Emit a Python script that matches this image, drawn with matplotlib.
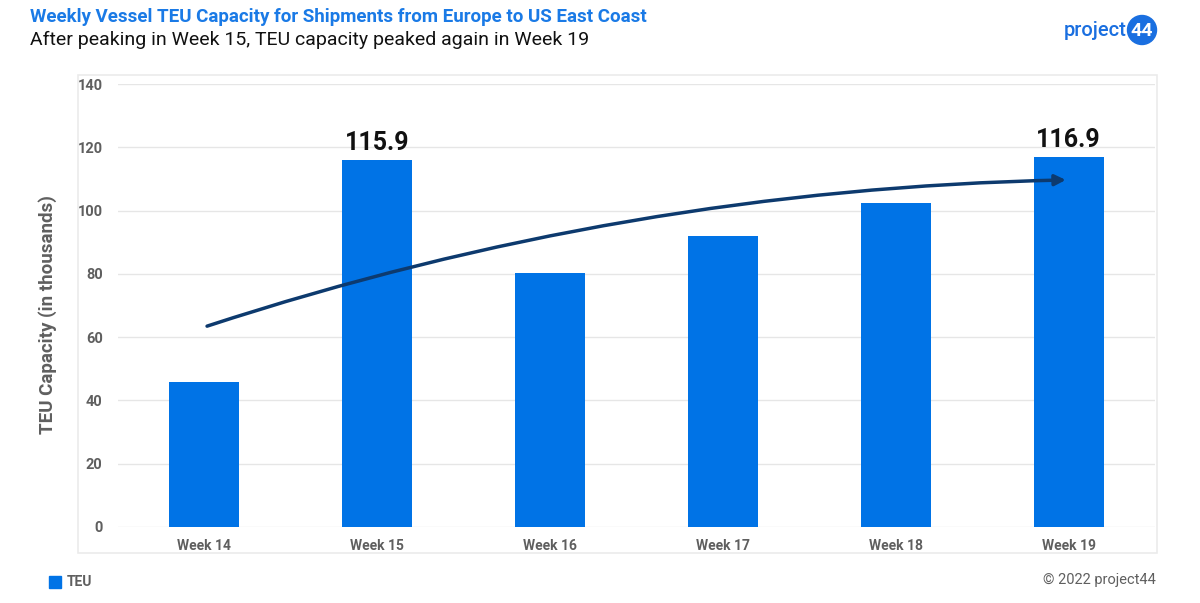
import matplotlib.pyplot as plt
from matplotlib.patches import Rectangle, Circle
import numpy as np

plt.rcParams['font.family'] = ['Roboto', 'DejaVu Sans']

weeks = ['Week 14', 'Week 15', 'Week 16', 'Week 17', 'Week 18', 'Week 19']
teu = [45.8, 115.9, 80.2, 92.0, 102.3, 116.9]
labelled = {1: '115.9', 5: '116.9'}
trend_start = 63.2
trend_end = 109.7

blue = '#0073E6'
gray = '#5f5f5f'

fig = plt.figure(figsize=(12, 6.03), dpi=100)
ax = fig.add_axes([118/1200, 1-527/603, (1155-118)/1200, (527-84)/603])

# outer frame
fig.patches.append(Rectangle((78/1200, 1-553/603), (1157-78)/1200, (553-75)/603,
                             transform=fig.transFigure, fill=False,
                             edgecolor='#ebebeb', lw=1.2, zorder=0))

x = np.arange(len(weeks))
ax.bar(x, teu, width=0.405, color=blue, zorder=3)
for i, txt in labelled.items():
    ax.text(x[i], teu[i] + 1.6, txt, ha='center', va='bottom',
            fontsize=18, fontweight='bold', color='#111111')

ax.annotate('', xy=(x[-1], trend_end), xytext=(x[0], trend_start),
            arrowprops=dict(arrowstyle='-|>', color='#0d3a6e', lw=2.5,
                            mutation_scale=16,
                            connectionstyle='arc3,rad=-0.075'),
            zorder=4)

ax.set_xlim(-0.5, len(weeks) - 0.5)
ax.set_ylim(0, 140)
ax.set_yticks(np.arange(0, 141, 20))
ax.set_xticks(x)
ax.set_xticklabels(weeks)
ax.grid(axis='y', color='#e6e6e6', lw=1, zorder=0)
for s in ax.spines.values():
    s.set_visible(False)
ax.tick_params(axis='y', length=0, labelsize=10.5, labelcolor=gray, pad=11)
ax.tick_params(axis='x', length=0, labelsize=10, labelcolor=gray, pad=9)
for lab in ax.get_xticklabels() + ax.get_yticklabels():
    lab.set_fontweight('bold')
ax.set_ylabel('TEU Capacity (in thousands)', fontsize=13.5, fontweight='bold',
              color=gray)
ax.yaxis.set_label_coords(-0.059, 0.48)

fig.text(30/1200, 1-17/603, 'Weekly Vessel TEU Capacity for Shipments from Europe to US East Coast',
         fontsize=13.5, fontweight='bold', color='#1a7ae6', va='center')
fig.text(30/1200, 1-40/603, 'After peaking in Week 15, TEU capacity peaked again in Week 19',
         fontsize=14, color='#111111', va='center')

# logo
fig.text(1127/1200, 1-31/603, 'project', fontsize=14.5, fontweight='medium',
         color='#1a6fe0', ha='right', va='center')
logo = Circle((1142/100, (603-30)/100), 0.145, transform=fig.dpi_scale_trans,
              color='#1a6fe0', zorder=1)
fig.patches.append(logo)
fig.text(1142/1200, 1-31/603, '44', fontsize=14, fontweight='bold',
         color='white', ha='center', va='center', zorder=2)

# legend
fig.patches.append(Rectangle((49/1200, 1-588/603), 12/1200, 12/603,
                             transform=fig.transFigure, color=blue))
fig.text(67/1200, 1-582/603, 'TEU', fontsize=10, fontweight='bold', color=gray, va='center')
fig.text(1156/1200, 1-580/603, '\u00a9 2022 project44', fontsize=10.5, color=gray,
         ha='right', va='center')

fig.savefig('out.png', dpi=100)
